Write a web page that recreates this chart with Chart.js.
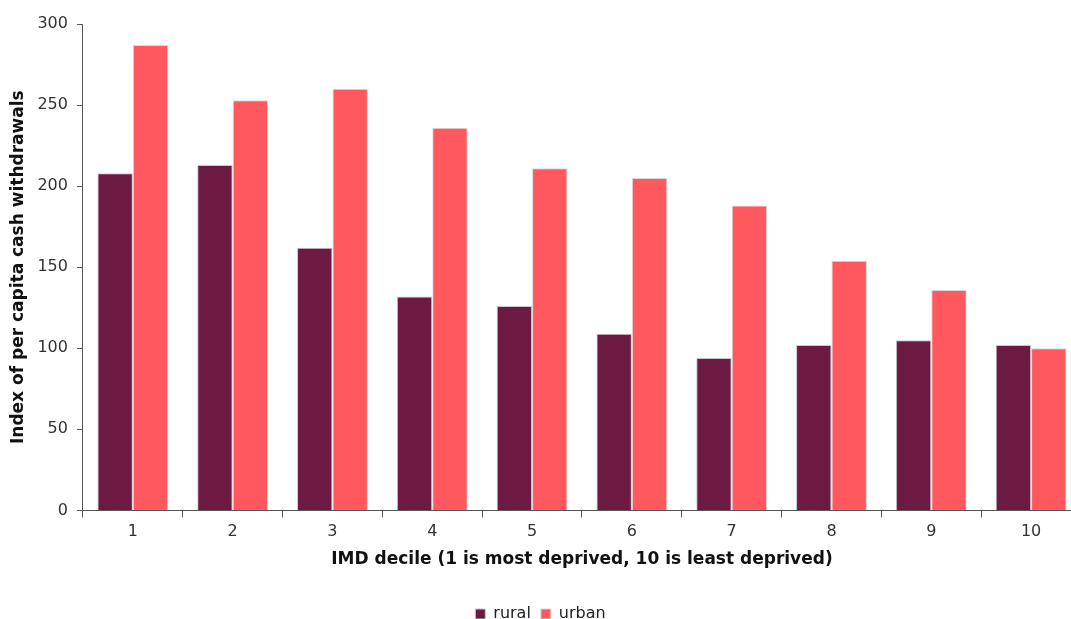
<!DOCTYPE html>
<html>
<head>
<meta charset="utf-8">
<script src="https://cdn.jsdelivr.net/npm/chart.js@4/dist/chart.umd.min.js"></script>
<style>
  html, body { margin: 0; padding: 0; background: #fff; overflow: hidden; }
  #wrap { width: 1090px; height: 632px; position: relative; }
</style>
</head>
<body>
<div id="wrap"><canvas id="chart"></canvas></div>
<script>
let deciles = ["1", "2", "3", "4", "5", "6", "7", "8", "9", "10"];
let rural = [208, 213, 162, 132, 126, 109, 94, 102, 105, 102];
let urban = [287, 253, 260, 236, 211, 205, 188, 154, 136, 100];
let yTicks = [0, 50, 100, 150, 200, 250, 300];

Chart.defaults.font.family = "'DejaVu Sans', Verdana, sans-serif";
Chart.defaults.color = "#333";

new Chart(document.getElementById("chart"), {
  type: 'bar',
  data: {
    labels: deciles,
    datasets: [
      {
        label: "rural",
        data: rural,
        backgroundColor: "#6d1a42",
        borderColor: "#c8c8c8",
        borderWidth: 1
      },
      {
        label: "urban",
        data: urban,
        backgroundColor: "#ff585e",
        borderColor: "#d8d8d8",
        borderWidth: 1
      }
    ]
  },
  options: {
    responsive: true,
    maintainAspectRatio: false,
    animation: false,
    datasets: {
      bar: { categoryPercentage: 0.71, barPercentage: 1.0 }
    },
    layout: { padding: { left: 0, right: 9, top: 24, bottom: 0 } },
    plugins: {
      legend: {
        position: 'bottom',
        labels: {
          boxWidth: 10,
          boxHeight: 10,
          padding: 10,
          font: { size: 16 },
          color: "#222"
        }
      },
      tooltip: { enabled: false }
    },
    scales: {
      x: {
        grid: {
          offset: true,
          drawOnChartArea: false,
          color: "#555",
          tickLength: 7
        },
        border: { color: "#555", width: 1 },
        ticks: { font: { size: 16 }, color: "#333", padding: 5 },
        title: {
          display: true,
          text: "IMD decile (1 is most deprived, 10 is least deprived)",
          font: { size: 17, weight: 'bold' },
          color: "#111",
          padding: { top: 3, bottom: 26 }
        }
      },
      y: {
        min: 0,
        max: 300,
        afterBuildTicks: axis => { axis.ticks = yTicks.map(v => ({ value: v })); },
        grid: {
          drawOnChartArea: false,
          color: "#555",
          tickLength: 6
        },
        border: { color: "#555", width: 1 },
        ticks: { font: { size: 16 }, color: "#333", padding: 9 },
        title: {
          display: true,
          text: "Index of per capita cash withdrawals",
          font: { size: 17, weight: 'bold' },
          color: "#111",
          padding: { top: 8, bottom: 0 }
        }
      }
    }
  }
});
</script>
</body>
</html>
